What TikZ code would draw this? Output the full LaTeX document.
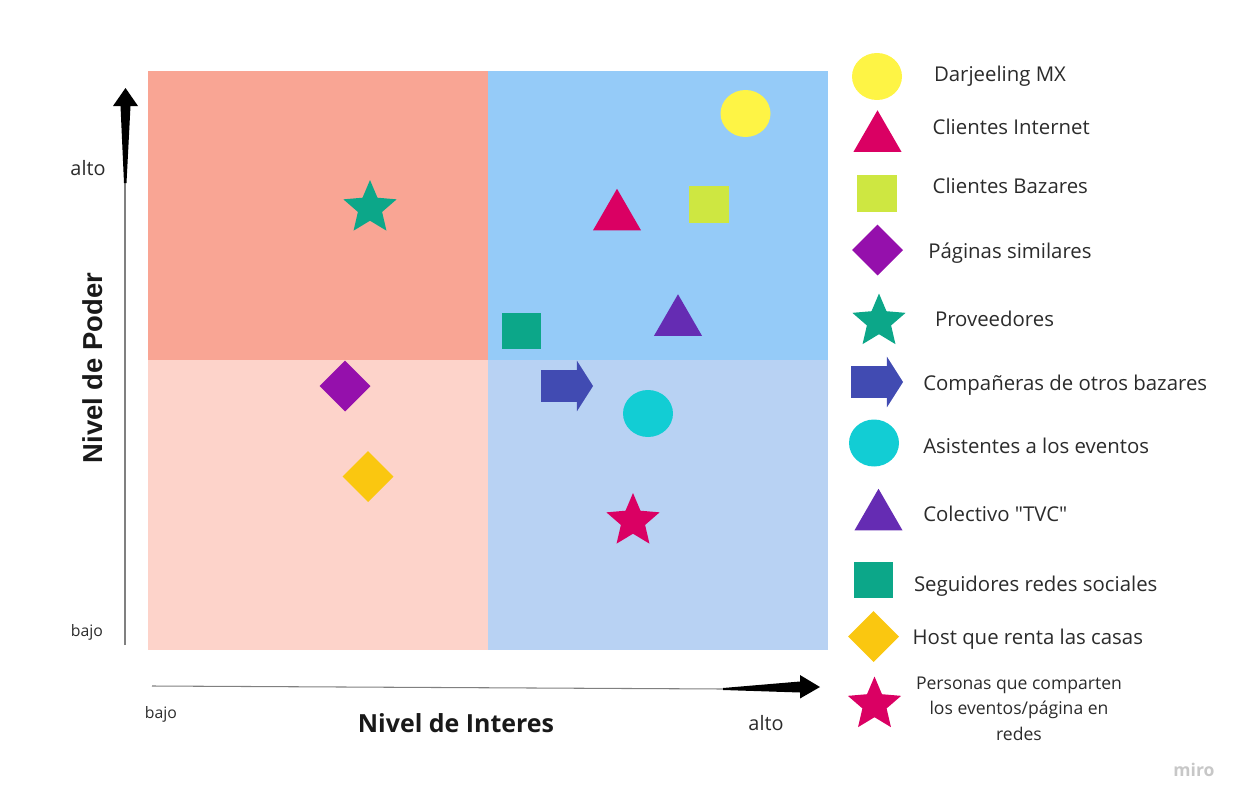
\documentclass[tikz,border=0pt]{standalone}
\usepackage{fontspec}
\setmainfont{Open Sans}
\newfontfamily\poderfont{Liberation Sans}
\usetikzlibrary{shapes.geometric,shapes.arrows}
\definecolor{quadTL}{HTML}{F9A594}
\definecolor{quadBL}{HTML}{FDD3CA}
\definecolor{quadTR}{HTML}{95CBF8}
\definecolor{quadBR}{HTML}{B8D2F3}
\definecolor{mYellow}{HTML}{FEF445}
\definecolor{mMagenta}{HTML}{DA0063}
\definecolor{mLime}{HTML}{CEE741}
\definecolor{mViolet}{HTML}{9510AC}
\definecolor{mTeal}{HTML}{0CA789}
\definecolor{mBlue}{HTML}{414BB2}
\definecolor{mCyan}{HTML}{12CDD4}
\definecolor{mPurple}{HTML}{652CB3}
\definecolor{mGold}{HTML}{FAC710}
\definecolor{ink}{HTML}{2B2B2B}

\begin{document}
\begin{tikzpicture}[x=0.02cm,y=-0.02cm,
  every node/.style={inner sep=0pt,outer sep=0pt,text=ink},
  circ/.style={ellipse,minimum width=1cm,minimum height=0.94cm,fill=#1},
  tri/.style={regular polygon,regular polygon sides=3,minimum size=1.11cm,fill=#1},
  sq/.style={rectangle,minimum width=0.79cm,minimum height=0.73cm,fill=#1},
  dia/.style={diamond,minimum width=1.02cm,minimum height=1.02cm,fill=#1},
  starshape/.style={star,star points=5,star point ratio=2.2,minimum size=1.12cm,fill=#1},
  arr/.style={single arrow,single arrow head extend=0.19cm,single arrow tip angle=115,
    inner ysep=0.31cm,minimum height=1.04cm,fill=#1},
  legtxt/.style={anchor=base west,font=\fontsize{11.6}{14}\selectfont},
  axtxt/.style={font=\fontsize{11.3}{14}\selectfont},
  smalltxt/.style={anchor=base,font=\fontsize{9}{11}\selectfont}]
\useasboundingbox (0,0) rectangle (1242,805);
% cuadrantes
\fill[quadTL] (148,71) rectangle (488,360);
\fill[quadTR] (488,71) rectangle (828,360);
\fill[quadBL] (148,360) rectangle (488,650);
\fill[quadBR] (488,360) rectangle (828,650);
% ejes
\coordinate (y0) at (125,645);
\coordinate (y1) at (125,183);
\coordinate (x0) at (152,686);
\coordinate (x1) at (723,689);
\draw[black!50,line width=0.6pt] (y0) -- (y1);
\draw[black!50,line width=0.6pt] (x0) -- (x1);
\fill[black] (124,183) -- (120.5,106) -- (113,106) -- (125.5,88) -- (138,106) -- (130.5,106) -- (126.5,183) -- cycle;
\fill[black] (723,688) -- (800,681.5) -- (800,675) -- (820,687) -- (800,698.5) -- (800,692.5) -- (723,690) -- cycle;
\node[axtxt] (altoY) at (88,168) {alto};
\node[smalltxt] (bajoY) at (87,636) {bajo};
\node[smalltxt] (bajoX) at (161,718) {bajo};
\node[axtxt] (altoX) at (766,723) {alto};
\node[anchor=base,rotate=90,font=\poderfont\bfseries\fontsize{15.6}{18}\selectfont,text=black!90] (ejeY) at (102,368) {Nivel de Poder};
\node[anchor=base,font=\bfseries\fontsize{14.2}{17}\selectfont,text=black!90] (ejeX) at (456,732) {Nivel de Interes};
% actores en la matriz
\node[circ=mYellow] (darj) at (745.5,113.5) {};
\node[tri=mMagenta] (cliInt) at (617,216.5) {};
\node[sq=mLime] (cliBaz) at (709,204.5) {};
\node[tri=mPurple] (tvc) at (678,322) {};
\node[sq=mTeal] (segui) at (521.5,331) {};
\node[starshape=mTeal] (prov) at (370,208) {};
\node[dia=mViolet] (pagSim) at (345,386) {};
\node[dia=mGold] (host) at (368,476.5) {};
\node[arr=mBlue] (comp) at (562,386) {};
\node[circ=mCyan] (asist) at (648,413.5) {};
\node[starshape=mMagenta] (pers) at (633,521) {};
% leyenda
\node[circ=mYellow] (legDarj) at (877,76.5) {};
\node[legtxt] (txtDarj) at (934,81.7) {Darjeeling MX};
\node[tri=mMagenta] (legCliInt) at (877.5,138) {};
\node[legtxt] (txtCliInt) at (932.7,134.3) {Clientes Internet};
\node[sq=mLime] (legCliBaz) at (877,193.5) {};
\node[legtxt] (txtCliBaz) at (932.7,193.3) {Clientes Bazares};
\node[dia=mViolet] (legPagSim) at (877.5,250) {};
\node[legtxt] (txtPagSim) at (928.3,258.3) {Páginas similares};
\node[starshape=mTeal] (legProv) at (879,321.5) {};
\node[legtxt] (txtProv) at (935,326.7) {Proveedores};
\node[arr=mBlue] (legComp) at (872,382) {};
\node[legtxt] (txtComp) at (923.3,390.7) {Compañeras de otros bazares};
\node[circ=mCyan] (legAsist) at (874,443) {};
\node[legtxt] (txtAsist) at (923.3,453.3) {Asistentes a los eventos};
\node[tri=mPurple] (legTvc) at (878.5,516.5) {};
\node[legtxt] (txtTvc) at (923.3,521.7) {Colectivo \textquotedbl TVC\textquotedbl};
\node[sq=mTeal] (legSegui) at (873.5,580) {};
\node[legtxt] (txtSegui) at (914,591.7) {Seguidores redes sociales};
\node[dia=mGold] (legHost) at (873.5,636.5) {};
\node[legtxt] (txtHost) at (912.7,644) {Host que renta las casas};
\node[starshape=mMagenta] (legPers) at (874.5,704.5) {};
\node[anchor=base,align=center,font=\fontsize{10}{14.4}\selectfont] (txtPers) at (1019,740)
  {Personas que comparten\\los eventos/página en\\redes};
\node[font=\bfseries\fontsize{10}{12}\selectfont,text=black!22] (miro) at (1194,770) {miro};
\end{tikzpicture}
\end{document}
